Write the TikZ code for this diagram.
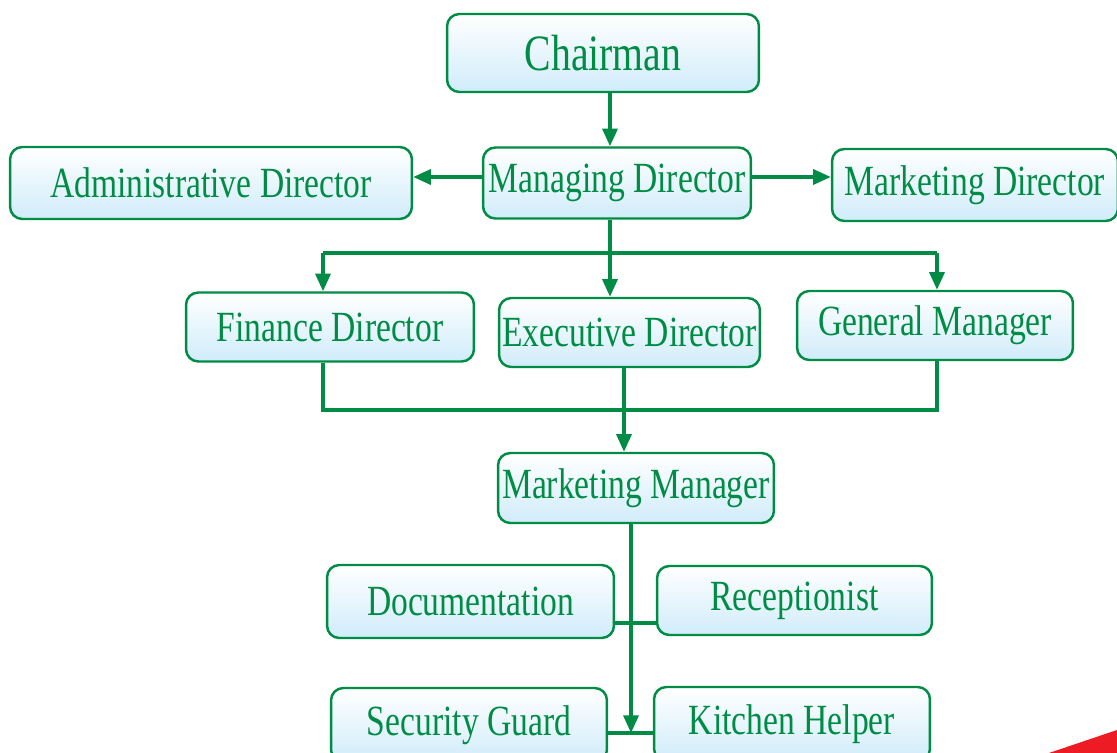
\documentclass[tikz,border=0pt]{standalone}
\usepackage{fontspec}
\setmainfont[FakeStretch=0.78]{Liberation Serif}
\usepackage{tikz}
\usetikzlibrary{arrows.meta}

\definecolor{orggreen}{RGB}{0,140,68}
\definecolor{boxblue}{RGB}{208,236,250}
\definecolor{cornerred}{RGB}{237,28,36}

\begin{document}
\begin{tikzpicture}[x=0.02cm,y=-0.02cm,
	post/.style={draw=orggreen,line width=1.4pt,rounded corners=7pt,
		top color=white,bottom color=boxblue,text=orggreen,inner sep=0pt,
		font=\fontsize{24.5}{28}\selectfont},
	link/.style={draw=orggreen,line width=1.9pt},
	arrow/.style={link,-{Triangle[length=10pt,width=8.5pt]}}]

	\useasboundingbox (0,0) rectangle (1117,753);
	\clip (0,0) rectangle (1117,753);

	\fill[cornerred] (1049,753) -- (1117,730) -- (1117,753) -- cycle;

	\node[post,minimum width=6.24cm,minimum height=1.56cm,font=\fontsize{29}{32}\selectfont] (chair) at (603, 53) {Chairman};
	\node[post,minimum width=5.36cm,minimum height=1.42cm] (md) at (617, 183) {Managing Director};
	\node[post,minimum width=8.04cm,minimum height=1.44cm] (admin) at (211, 183) {Administrative Director};
	\node[post,minimum width=5.72cm,minimum height=1.44cm] (mkdir) at (975, 185) {Marketing Director};

	\node[post,minimum width=5.76cm,minimum height=1.38cm] (fin) at (330, 327) {Finance Director};
	\node[post,minimum width=5.22cm,minimum height=1.38cm] (exec) at (629.5, 332.5) {Executive Director};
	\node[post,minimum width=5.52cm,minimum height=1.38cm] (gm) at (935, 325.5) {General Manager};

	\node[post,minimum width=5.52cm,minimum height=1.40cm] (mm) at (636, 488) {Marketing Manager};

	\node[post,minimum width=5.74cm,minimum height=1.46cm] (doc) at (470.5, 601.5) {Documentation};
	\node[post,minimum width=5.50cm,minimum height=1.38cm] (rec) at (794.5, 600.5) {Receptionist};
	\node[post,minimum width=5.52cm,minimum height=1.48cm] (sec) at (469, 725) {Security Guard};
	\node[post,minimum width=5.52cm,minimum height=1.48cm] (kit) at (792, 724) {Kitchen Helper};

	% junctions
	\coordinate (top) at (610, 253);
	\coordinate (topl) at (323, 253);
	\coordinate (topr) at (937, 253);
	\coordinate (mid) at (624, 410);
	\coordinate (midl) at (323, 410);
	\coordinate (midr) at (937, 410);
	\coordinate (low) at (631, 733);
	\coordinate (row1) at (631, 623);
	\coordinate (side) at (617, 177);

	\draw[arrow] (chair.south -| top) -- (md.north -| top);
	\draw[arrow] (md.west |- side) -- (admin.east |- side);
	\draw[arrow] (md.east |- side) -- (mkdir.west |- side);

	\draw[link] (md.south -| top) -- (top);
	\draw[link] (topl) -- (topr);
	\draw[arrow] (topl) -- (fin.north -| topl);
	\draw[arrow] (top) -- (exec.north -| top);
	\draw[arrow] (topr) -- (gm.north -| topr);

	\draw[link] (fin.south -| midl) -- (midl) -- (midr) -- (gm.south -| midr);
	\draw[arrow] (exec.south -| mid) -- (mm.north -| mid);

	\draw[arrow] (mm.south -| low) -- (low);
	\draw[link] (doc.east |- row1) -- (rec.west |- row1);
	\draw[link] (sec.east |- low) -- (kit.west |- low);

\end{tikzpicture}
\end{document}
